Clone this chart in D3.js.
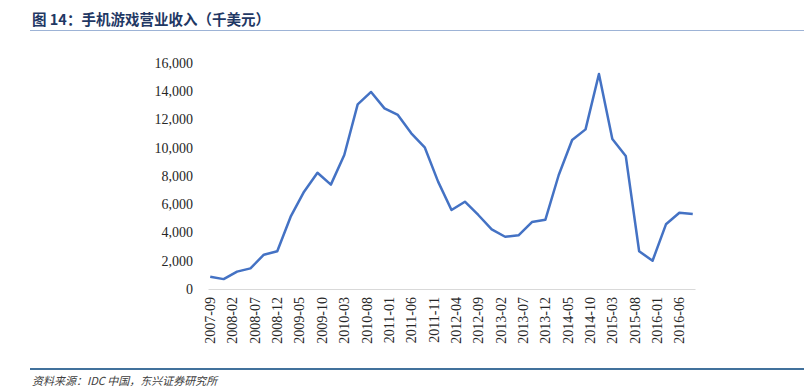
<!DOCTYPE html>
<html>
<head>
<meta charset="utf-8">
<script src="https://cdn.jsdelivr.net/npm/d3@7"></script>
<style>
  body { margin: 0; background: #fff; }
  svg { display: block; }
</style>
</head>
<body>
<svg width="804" height="391"></svg>
<script>
'use strict';

// quarterly revenue, thousand USD
const periods = [
  "2007-09", "2007-12", "2008-03", "2008-06", "2008-09", "2008-12",
  "2009-03", "2009-06", "2009-09", "2009-12", "2010-03", "2010-06",
  "2010-09", "2010-12", "2011-03", "2011-06", "2011-09", "2011-12",
  "2012-03", "2012-06", "2012-09", "2012-12", "2013-03", "2013-06",
  "2013-09", "2013-12", "2014-03", "2014-06", "2014-09", "2014-12",
  "2015-03", "2015-06", "2015-09", "2015-12", "2016-03", "2016-06",
  "2016-09"
];
const revenue = [
  870, 700, 1230, 1460, 2430, 2670,
  5120, 6890, 8230, 7390, 9490, 13070,
  13950, 12790, 12320, 11020, 10030, 7600,
  5590, 6180, 5240, 4220, 3700, 3800,
  4740, 4900, 8070, 10550, 11300, 15220,
  10620, 9420, 2670, 2000, 4580, 5400,
  5310
];
const tickLabels = [
  "2007-09", "2008-02", "2008-07", "2008-12", "2009-05", "2009-10",
  "2010-03", "2010-08", "2011-01", "2011-06", "2011-11", "2012-04",
  "2012-09", "2013-02", "2013-07", "2013-12", "2014-05", "2014-10",
  "2015-03", "2015-08", "2016-01", "2016-06"
];
const yTicks = [0, 2000, 4000, 6000, 8000, 10000, 12000, 14000, 16000];

const serif = "'Liberation Serif', 'Times New Roman', serif";
const svg = d3.select("svg");

const parse = d3.timeParse("%Y-%m");
const fmt = d3.timeFormat("%Y-%m");
const first = parse(periods[0]);
const last = parse(periods[periods.length - 1]);
const months = d3.timeMonth.range(first, d3.timeMonth.offset(last, 1)).map(fmt);

const x = d3.scaleBand().domain(months).range([208, 695]);
const y = d3.scaleLinear().domain([0, 16000]).range([289, 63]);
const cx = m => x(m) + x.bandwidth() / 2;

// title
svg.append("text")
  .attr("x", 32)
  .attr("y", 25)
  .style("font-family", "'Noto Sans CJK SC', sans-serif")
  .style("font-weight", "bold")
  .style("font-size", "14.5px")
  .style("fill", "#1f3864")
  .text("图 14：手机游戏营业收入（千美元）");

svg.append("line")
  .attr("x1", 30).attr("x2", 804)
  .attr("y1", 30.5).attr("y2", 30.5)
  .attr("stroke", "#9db3d6")
  .attr("stroke-width", 1);

// y axis
const yAxis = svg.append("g")
  .attr("transform", "translate(197,0)")
  .call(d3.axisLeft(y).tickValues(yTicks).tickSize(0).tickPadding(4).tickFormat(d3.format(",")));
yAxis.select(".domain").remove();
yAxis.selectAll(".tick text")
  .style("font-family", serif)
  .style("font-size", "14px")
  .style("fill", "#262626");

// x axis
const xAxis = svg.append("g")
  .attr("transform", "translate(0,289)")
  .call(d3.axisBottom(x).tickValues(tickLabels).tickSize(0).tickPadding(0));
xAxis.select(".domain").attr("stroke", "#d9d9d9").attr("stroke-width", 1.2);
xAxis.selectAll(".tick text")
  .attr("transform", "rotate(-90)")
  .attr("text-anchor", "end")
  .attr("x", -8)
  .attr("y", 0)
  .attr("dy", "0.35em")
  .style("font-family", serif)
  .style("font-size", "14px")
  .style("fill", "#262626");

// line
const line = d3.line()
  .x((d, i) => cx(periods[i]))
  .y(d => y(d));

svg.append("path")
  .datum(revenue)
  .attr("fill", "none")
  .attr("stroke", "#4472c4")
  .attr("stroke-width", 2.5)
  .attr("stroke-linejoin", "round")
  .attr("d", line);

// footer
svg.append("line")
  .attr("x1", 30).attr("x2", 804)
  .attr("y1", 369).attr("y2", 369)
  .attr("stroke", "#41719c")
  .attr("stroke-width", 2);

svg.append("text")
  .attr("x", 32)
  .attr("y", 385)
  .style("font-family", "'Noto Sans CJK SC', sans-serif")
  .style("font-style", "italic")
  .style("font-size", "11px")
  .style("fill", "#404040")
  .text("资料来源：IDC 中国，东兴证券研究所");
</script>
</body>
</html>
